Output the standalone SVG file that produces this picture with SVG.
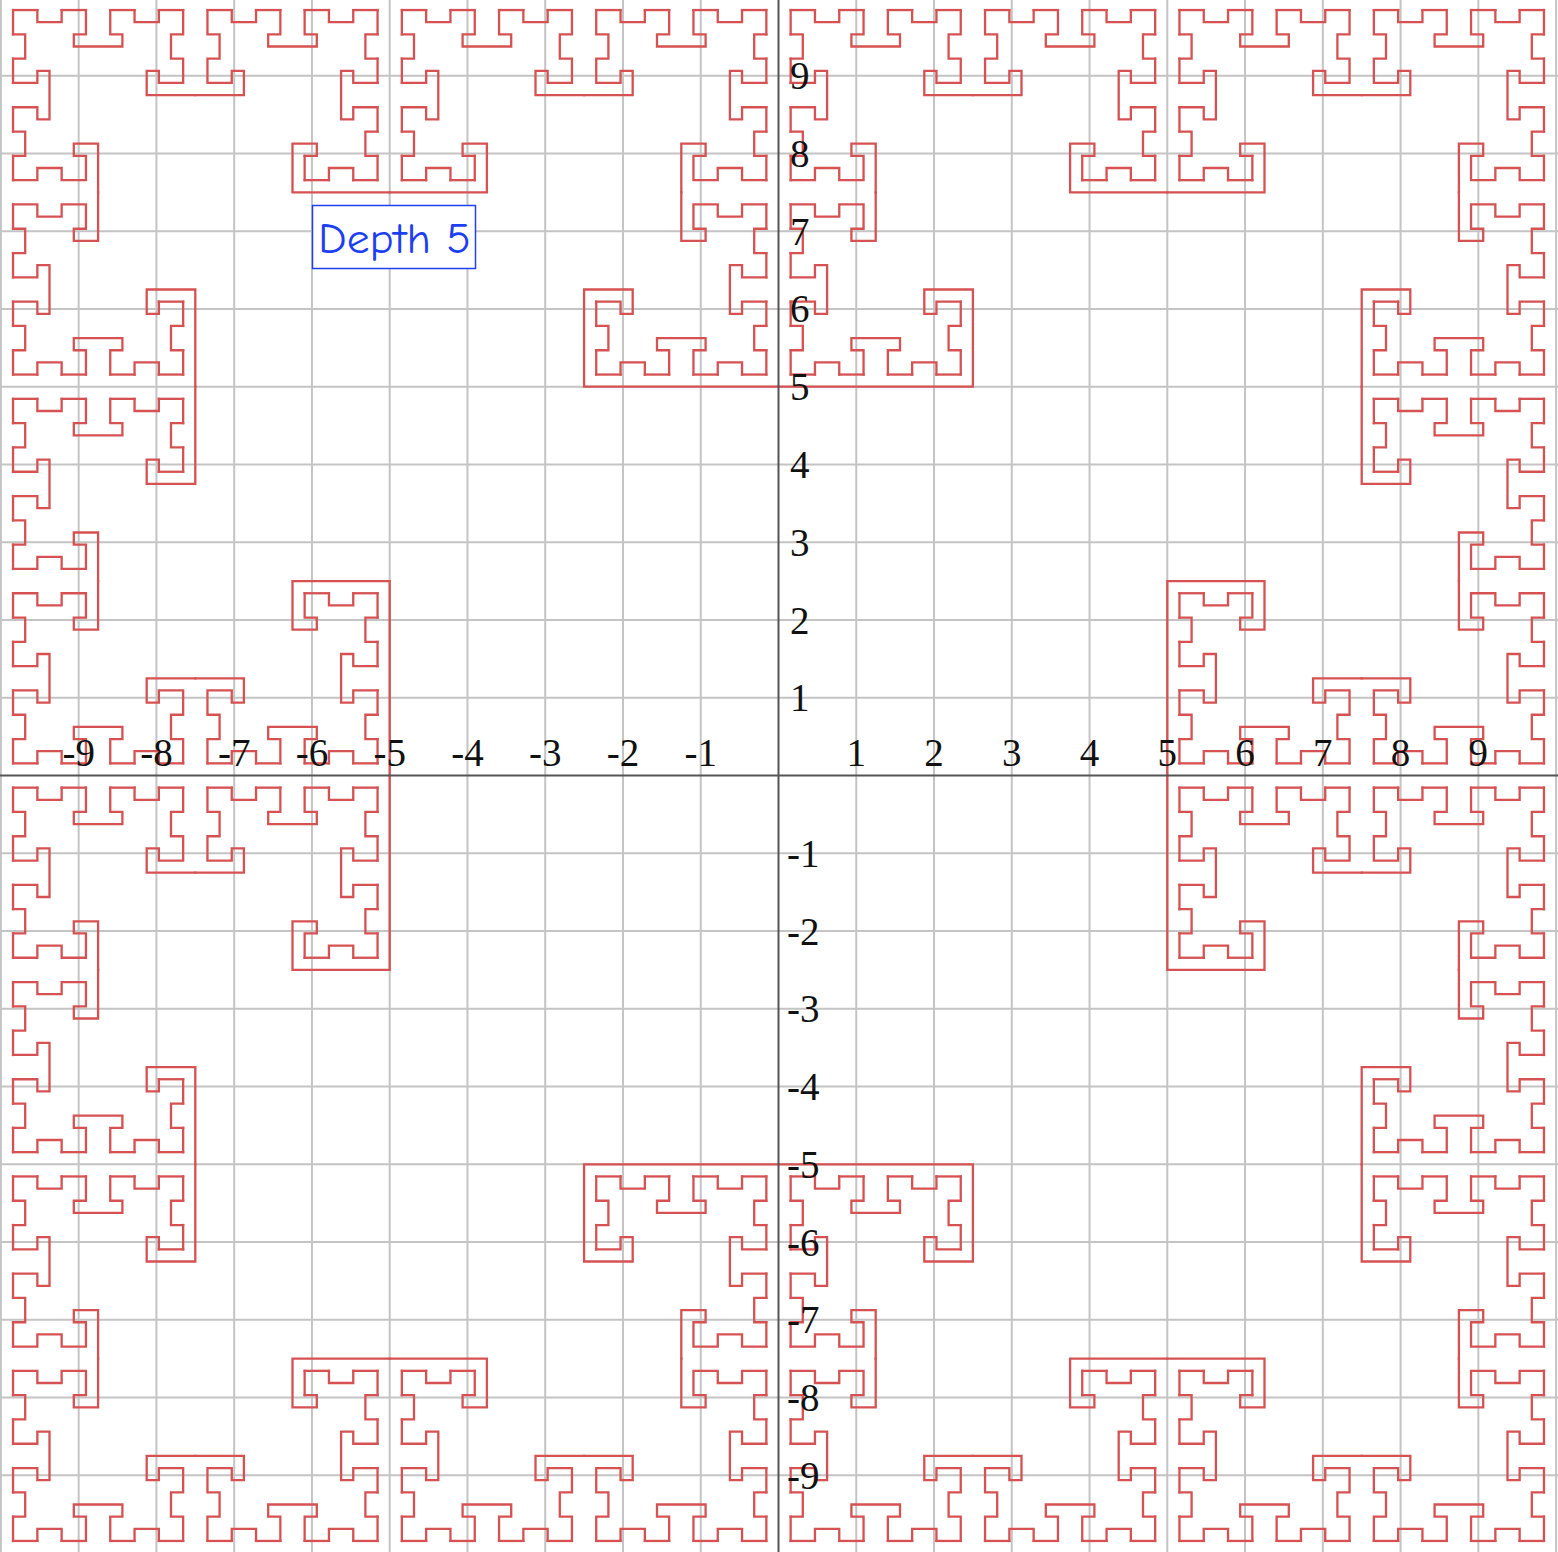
<svg xmlns="http://www.w3.org/2000/svg" xmlns:xlink="http://www.w3.org/1999/xlink" width="1558" height="1552" viewBox="0 0 1558 1552">
<style>
.grid{fill:none;stroke:#c4c4c4;stroke-width:2}
.axis{fill:none;stroke:#555;stroke-width:2}
.curve{fill:none;stroke:#d65252;stroke-width:0.19;stroke-linecap:square;stroke-linejoin:miter}
.lbl{font-family:"Liberation Serif","Times New Roman",serif;font-size:39px;fill:#111}
.xl{text-anchor:middle}
.yl{text-anchor:start}
.title{font-family:"Comic Sans MS","Comic Neue","DejaVu Sans",sans-serif;font-size:42px;fill:#1d3ff2}
</style>
<defs>
<path id="e0" d="M0,0H2"/>
<path id="t0" d="M-1,0V-1H1V0"/>
<g id="e1"><use href="#e0"/><use href="#t0" x="3"/><use href="#e0" x="4"/></g>
<path id="t1" d="M-1,0V-2H-2V-3H2V-2H1V0"/>
<g id="e2"><use href="#e1"/><use href="#t1" x="7"/><use href="#e1" x="8"/></g>
<path id="t2h" d="M-1,0V-2H-2V-4H-1V-6H-3V-5H-4V-7H0"/>
<g id="t2"><use href="#t2h"/><use href="#t2h" transform="scale(-1,1)"/></g>
<g id="e3"><use href="#e2"/><use href="#t2" x="15"/><use href="#e2" x="16"/></g>
<g id="t3h">
<use href="#e2" transform="translate(-1,0) rotate(-90)"/>
<use href="#e1" transform="translate(-1,-14) rotate(180)"/>
<use href="#e0" transform="translate(-7,-14) rotate(90)"/>
<path d="M-7,-12H-6V-11H-8V-15H0"/>
</g>
<g id="t3"><use href="#t3h"/><use href="#t3h" transform="scale(-1,1)"/></g>
<g id="e4"><use href="#e3"/><use href="#t3" x="31"/><use href="#e3" x="32"/></g>
<g id="t4h">
<use href="#e3" transform="translate(-1,0) rotate(-90)"/>
<use href="#e2" transform="translate(-1,-30) rotate(180)"/>
<use href="#e1" transform="translate(-15,-30) rotate(90)"/>
<path d="M-15,-24H-13V-25H-12V-23H-16V-31H0"/>
</g>
<g id="t4"><use href="#t4h"/><use href="#t4h" transform="scale(-1,1)"/></g>
<g id="side"><use href="#e4" x="-63" y="63"/><use href="#t4" y="63"/><use href="#e4" x="1" y="63"/></g>
</defs>
<rect width="1558" height="1552" fill="#fff"/>
<g id="grid" class="grid">
<path d="M0.9,0V1552M78.66,0V1552M156.42,0V1552M234.18,0V1552M311.94,0V1552M389.7,0V1552M467.46,0V1552M545.22,0V1552M622.98,0V1552M700.74,0V1552M856.26,0V1552M934.02,0V1552M1011.78,0V1552M1089.54,0V1552M1167.3,0V1552M1245.06,0V1552M1322.82,0V1552M1400.58,0V1552M1478.34,0V1552M1556.1,0V1552"/>
<path d="M0,75.66H1558M0,153.42H1558M0,231.18H1558M0,308.94H1558M0,386.7H1558M0,464.46H1558M0,542.22H1558M0,619.98H1558M0,697.74H1558M0,853.26H1558M0,931.02H1558M0,1008.78H1558M0,1086.54H1558M0,1164.3H1558M0,1242.06H1558M0,1319.82H1558M0,1397.58H1558M0,1475.34H1558"/>
</g>
<g id="fractal" class="curve" transform="translate(778.5,775.5) scale(12.15,-12.15)">
<use href="#side"/>
<use href="#side" transform="rotate(90)"/>
<use href="#side" transform="rotate(180)"/>
<use href="#side" transform="rotate(270)"/>
</g>
<g id="axes" class="axis">
<path d="M778.5,0V1552M0,775.5H1558"/>
</g>
<g id="xlabels" class="lbl xl">
<text x="78.66" y="766">-9</text>
<text x="156.42" y="766">-8</text>
<text x="234.18" y="766">-7</text>
<text x="311.94" y="766">-6</text>
<text x="389.7" y="766">-5</text>
<text x="467.46" y="766">-4</text>
<text x="545.22" y="766">-3</text>
<text x="622.98" y="766">-2</text>
<text x="700.74" y="766">-1</text>
<text x="856.26" y="766">1</text>
<text x="934.02" y="766">2</text>
<text x="1011.78" y="766">3</text>
<text x="1089.54" y="766">4</text>
<text x="1167.3" y="766">5</text>
<text x="1245.06" y="766">6</text>
<text x="1322.82" y="766">7</text>
<text x="1400.58" y="766">8</text>
<text x="1478.34" y="766">9</text>
</g>
<g id="ylabels" class="lbl yl">
<text x="790" y="89.2">9</text>
<text x="790" y="166.9">8</text>
<text x="790" y="244.7">7</text>
<text x="790" y="322.4">6</text>
<text x="790" y="400.2">5</text>
<text x="790" y="478">4</text>
<text x="790" y="555.7">3</text>
<text x="790" y="633.5">2</text>
<text x="790" y="711.2">1</text>
<text x="787" y="866.8">-1</text>
<text x="787" y="944.5">-2</text>
<text x="787" y="1022.3">-3</text>
<text x="787" y="1100">-4</text>
<text x="787" y="1177.8">-5</text>
<text x="787" y="1255.6">-6</text>
<text x="787" y="1333.3">-7</text>
<text x="787" y="1411.1">-8</text>
<text x="787" y="1488.8">-9</text>
</g>
<g id="depth-label">
<rect x="312.5" y="205.5" width="163" height="63" fill="#fff" stroke="#2040f0" stroke-width="1.5"/>
<text class="title" x="318" y="253" textLength="153" lengthAdjust="spacingAndGlyphs">Depth 5</text>
</g>
</svg>
